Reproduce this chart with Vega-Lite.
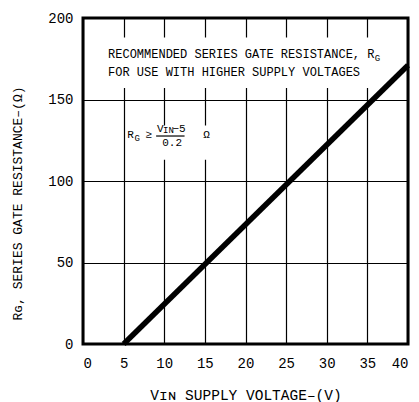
{
  "$schema": "https://vega.github.io/schema/vega-lite/v6.json",
  "width": 325,
  "height": 326,
  "autosize": {"type": "none"},
  "padding": {"left": 83, "top": 18, "right": 11, "bottom": 58},
  "background": "white",
  "config": {
    "view": {"stroke": "black", "strokeWidth": 3},
    "axis": {
      "domain": false, "ticks": false,
      "gridColor": "black", "gridOpacity": 1, "gridWidth": 1.2,
      "labelFont": "Liberation Mono", "labelFontSize": 14, "labelColor": "black",
      "titleFont": "Liberation Mono", "titleFontSize": 13, "titleFontWeight": "normal", "titleColor": "black"
    },
    "text": {"font": "Liberation Mono", "color": "black", "align": "left", "baseline": "middle"}
  },
  "datasets": {
    "curve": [{"v": 5, "r": 0}, {"v": 40, "r": 171}],
    "boxes": [{"x": 2.1, "x2": 38.4, "y": 188, "y2": 157}, {"x": 5.5, "x2": 16.2, "y": 134, "y2": 113}],
    "main": [
      {"x": 3.08, "y": 178, "t": "RECOMMENDED SERIES GATE RESISTANCE, R"},
      {"x": 3.08, "y": 166.9, "t": "FOR USE WITH HIGHER SUPPLY VOLTAGES"}
    ],
    "formula": [
      {"x": 5.45, "y": 128.2, "t": "R"},
      {"x": 7.7, "y": 128.2, "t": "≥"},
      {"x": 9.1, "y": 132.2, "t": "V"},
      {"x": 11.0, "y": 132.2, "t": "−5"},
      {"x": 9.75, "y": 123.6, "t": "0.2"},
      {"x": 14.8, "y": 128.2, "t": "Ω"}
    ],
    "subs": [
      {"x": 35.9, "y": 175.5, "t": "G"},
      {"x": 6.35, "y": 126.6, "t": "G"},
      {"x": 9.85, "y": 131.0, "t": "IN"}
    ],
    "bar": [{"x": 9.0, "x2": 12.5, "y": 127.6}]
  },
  "layer": [
    {
      "data": {"name": "boxes"},
      "mark": {"type": "rect", "color": "white"},
      "encoding": {
        "x": {"field": "x", "type": "quantitative",
          "scale": {"domain": [0, 40], "nice": false},
          "axis": {"values": [0, 5, 10, 15, 20, 25, 30, 35, 40], "labelPadding": 12, "titlePadding": 18,
            "title": "Vɪɴ  SUPPLY VOLTAGE–(V)", "titleFontSize": 14.5}},
        "x2": {"field": "x2"},
        "y": {"field": "y", "type": "quantitative",
          "scale": {"domain": [0, 200], "nice": false},
          "axis": {"values": [0, 50, 100, 150, 200], "labelPadding": 10,
            "title": "Rɢ, SERIES GATE RESISTANCE–(Ω)", "titleX": -66, "titleY": 185,
            "titleAngle": -90, "titleAlign": "center", "titleBaseline": "middle"}},
        "y2": {"field": "y2"}
      }
    },
    {
      "data": {"name": "curve"},
      "mark": {"type": "line", "color": "black", "strokeWidth": 5.5},
      "encoding": {
        "x": {"field": "v", "type": "quantitative"},
        "y": {"field": "r", "type": "quantitative"}
      }
    },
    {
      "data": {"name": "main"},
      "mark": {"type": "text", "fontSize": 12},
      "encoding": {
        "x": {"field": "x", "type": "quantitative"},
        "y": {"field": "y", "type": "quantitative"},
        "text": {"field": "t"}
      }
    },
    {
      "data": {"name": "formula"},
      "mark": {"type": "text", "fontSize": 11},
      "encoding": {
        "x": {"field": "x", "type": "quantitative"},
        "y": {"field": "y", "type": "quantitative"},
        "text": {"field": "t"}
      }
    },
    {
      "data": {"name": "subs"},
      "mark": {"type": "text", "fontSize": 9},
      "encoding": {
        "x": {"field": "x", "type": "quantitative"},
        "y": {"field": "y", "type": "quantitative"},
        "text": {"field": "t"}
      }
    },
    {
      "data": {"name": "bar"},
      "mark": {"type": "rule", "color": "black", "strokeWidth": 1.2},
      "encoding": {
        "x": {"field": "x", "type": "quantitative"},
        "x2": {"field": "x2"},
        "y": {"field": "y", "type": "quantitative"}
      }
    }
  ]
}
